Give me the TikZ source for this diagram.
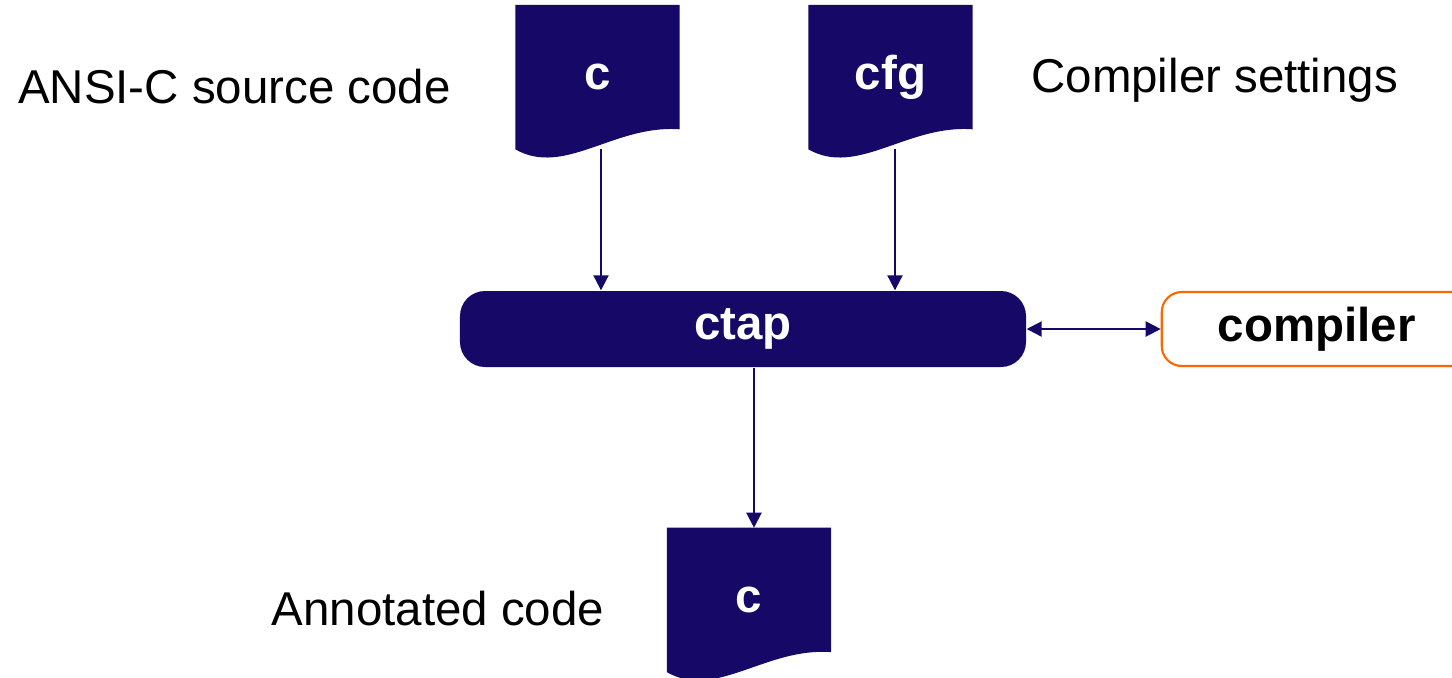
\documentclass[tikz,border=0pt]{standalone}
\usepackage{fontspec}
\setmainfont{Liberation Sans}
\usetikzlibrary{positioning,backgrounds,arrows.meta}
\definecolor{ctapnavy}{RGB}{21,8,102}
\definecolor{ctaporange}{RGB}{255,102,0}

\begin{document}
\begin{tikzpicture}[
  tool/.style={fill=ctapnavy, text=white, rounded corners=0.25cm, minimum width=5.66cm, minimum height=0.76cm,
    font=\fontsize{13.5}{16}\selectfont\bfseries},
  ext/.style={draw=ctaporange, line width=0.6pt, fill=white, rounded corners=0.2cm, minimum width=3.10cm, minimum height=0.74cm,
    font=\fontsize{13.5}{16}\selectfont\bfseries},
  doc/.style={text=white, minimum width=1.63cm, minimum height=1.43cm, inner sep=0pt,
    font=\fontsize{13.5}{16}\selectfont\bfseries},
  lbl/.style={inner sep=0pt, font=\fontsize{13.5}{16}\selectfont},
  arr/.style={draw=ctapnavy, line width=0.6pt, -{Triangle[length=0.15cm, width=0.15cm]}},
  darr/.style={draw=ctapnavy, line width=0.6pt, {Triangle[length=0.15cm, width=0.15cm]}-{Triangle[length=0.15cm, width=0.15cm]}},
]
\path[use as bounding box] (-7.43,3.29) rectangle (7.09,-3.48);

% Tool and compiler
\node[tool] (ctap) at (0,0) {ctap};
\node[ext, right=1.34cm of ctap] (compiler) {compiler};

% Input and output files
\node[doc, above=1.41cm of ctap, xshift=-1.455cm] (src) {c};
\node[doc, above=1.41cm of ctap, xshift=1.475cm]  (cfg) {cfg};
\node[doc, below=1.60cm of ctap, xshift=0.06cm]   (out) {c};

% File captions
\node[lbl, left=0.64cm of src, yshift=-0.095cm]  (srclbl) {ANSI-C source code};
\node[lbl, right=0.58cm of cfg, yshift=-0.03cm]  (cfglbl) {Compiler settings};
\node[lbl, left=0.62cm of out, yshift=-0.085cm]  (outlbl) {Annotated code};

% Document shapes
\begin{scope}[on background layer]
  \foreach \d in {src,cfg,out}
    \fill[ctapnavy] (\d.north west) -- (\d.north east) -- ([yshift=0.2cm]\d.south east)
      .. controls ([xshift=0.99cm,yshift=0.25cm]\d.south west) and ([xshift=0.49cm,yshift=-0.28cm]\d.south west) .. (\d.south west) -- cycle;
\end{scope}

% Arrows
\draw[arr] ([xshift=0.035cm]src.south) -- ([xshift=0.035cm]src.south |- ctap.north);
\draw[arr] ([xshift=0.045cm]cfg.south) -- ([xshift=0.045cm]cfg.south |- ctap.north);
\draw[arr] ([xshift=0.11cm]ctap.south) -- ([xshift=0.05cm]out.north);
\draw[darr] (ctap) -- (compiler);

\end{tikzpicture}
\end{document}
